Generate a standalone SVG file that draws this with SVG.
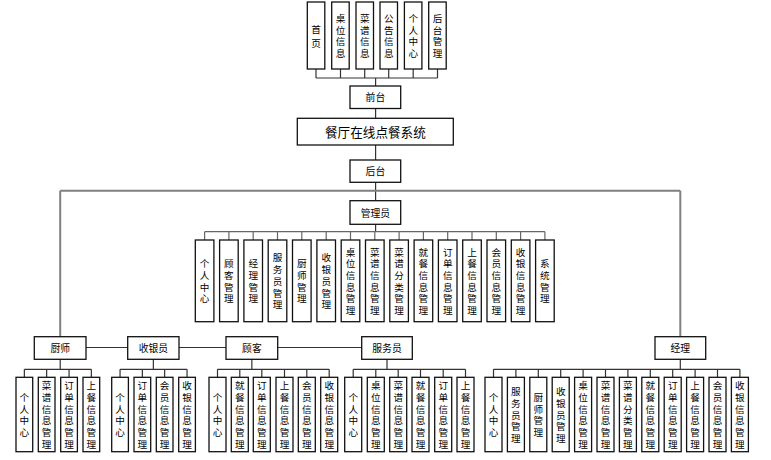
<svg xmlns="http://www.w3.org/2000/svg" width="771" height="460" viewBox="0 0 771 460">
<style>
rect{fill:#fff;stroke:#111;stroke-width:1.3}
.c line,.c path{stroke:#333;stroke-width:1.2;fill:none}
.c .g{stroke:#808080;stroke-width:2}
.c .m{stroke:#666}
text{font-family:"Noto Sans CJK SC","Noto Sans CJK JP",sans-serif;fill:#000;text-anchor:middle;dominant-baseline:central}
.v{font-size:9.6px}
.h{font-size:9.8px}
.t{font-size:12.6px}
</style>
<rect x="0" y="0" width="771" height="460" style="fill:#fff;stroke:none"/>
<g class="c" id="connectors">
<path d="M316 69V78M340.5 69V78M364.7 69V78M388.7 69V78M413.2 69V78M437.5 69V78M316 78H437.5M375.6 78V86"/>
<path d="M375.6 108.5V118.3M375.6 145V160M375.6 182.3V200.7M375.6 224.3V231.7"/>
<path class="g" d="M60.2 190.7H680.3M60.2 190.7V336.7M680.3 190.7V336.7"/>
<path class="m" d="M204.6 231.7H544.9M204.6 231.7V240M228.9 231.7V240M253.2 231.7V240M277.5 231.7V240M301.8 231.7V240M326.2 231.7V240M350.5 231.7V240M374.8 231.7V240M399.1 231.7V240M423.4 231.7V240M447.7 231.7V240M472 231.7V240M496.3 231.7V240M520.6 231.7V240M544.9 231.7V240"/>
<path d="M86 347.5H127.7M179 347.5H226M277.7 347.5H361.7"/>
<path d="M60.2 359.3V369.3M24.35 369.3H91.35M24.35 369.3V377.3M46.65 369.3V377.3M69.05 369.3V377.3M91.35 369.3V377.3"/>
<path d="M153.35 359.3V369.3M120.05 369.3H187.05M120.05 369.3V377.3M142.35 369.3V377.3M164.65 369.3V377.3M187.05 369.3V377.3"/>
<path d="M251.85 359.3V369.3M217.5 369.3H329.2M217.5 369.3V377.3M239.8 369.3V377.3M261.8 369.3V377.3M284.5 369.3V377.3M306.8 369.3V377.3M329.2 369.3V377.3"/>
<path d="M387 359.3V369.3M353.2 369.3H465.5M353.2 369.3V377.3M375.8 369.3V377.3M398.2 369.3V377.3M420.5 369.3V377.3M443.2 369.3V377.3M465.5 369.3V377.3"/>
<path d="M680.3 359.3V369.3M493.5 369.3H739.9M493.5 369.3V377.3M515.9 369.3V377.3M538.3 369.3V377.3M560.7 369.3V377.3M583.1 369.3V377.3M605.5 369.3V377.3M627.9 369.3V377.3M650.3 369.3V377.3M672.7 369.3V377.3M695.1 369.3V377.3M717.5 369.3V377.3M739.9 369.3V377.3"/>
</g>
<!-- top row -->
<g id="n-shouye"><rect x="307.3" y="2" width="17.5" height="67"/><text class="v" x="316 316" y="28.5 42.5">首页</text></g>
<g id="n-zhuowei"><rect x="331.7" y="2" width="17.5" height="67"/><text class="v" x="340.5 340.5 340.5 340.5" y="17.95 29.65 41.35 53.05">桌位信息</text></g>
<g id="n-caipu"><rect x="356" y="2" width="17.5" height="67"/><text class="v" x="364.7 364.7 364.7 364.7" y="17.95 29.65 41.35 53.05">菜谱信息</text></g>
<g id="n-gonggao"><rect x="380" y="2" width="17.5" height="67"/><text class="v" x="388.7 388.7 388.7 388.7" y="17.95 29.65 41.35 53.05">公告信息</text></g>
<g id="n-geren"><rect x="404.4" y="2" width="17.5" height="67"/><text class="v" x="413.2 413.2 413.2 413.2" y="17.95 29.65 41.35 53.05">个人中心</text></g>
<g id="n-houtaiguanli"><rect x="428.7" y="2" width="17.5" height="67"/><text class="v" x="437.5 437.5 437.5 437.5" y="17.95 29.65 41.35 53.05">后台管理</text></g>
<g id="n-qiantai"><rect x="350" y="86" width="50.7" height="22.5"/><text class="h" x="375.4" y="97.3">前台</text></g>
<g id="n-system"><rect x="297.3" y="118.3" width="156" height="26.7"/><text class="t" x="375.4" y="131.7">餐厅在线点餐系统</text></g>
<g id="n-houtai"><rect x="350" y="160" width="50.7" height="22.3"/><text class="h" x="375.4" y="171.2">后台</text></g>
<g id="n-admin"><rect x="350" y="200.7" width="50.7" height="23.6"/><text class="h" x="375.4" y="212.5">管理员</text></g>
<!-- admin children -->
<g id="a0"><rect x="195.3" y="240" width="18.6" height="81.7"/><text class="v" x="204.6 204.6 204.6 204.6" y="263.3 275 286.7 298.4">个人中心</text></g>
<g id="a1"><rect x="219.6" y="240" width="18.6" height="81.7"/><text class="v" x="228.9 228.9 228.9 228.9" y="263.3 275 286.7 298.4">顾客管理</text></g>
<g id="a2"><rect x="243.9" y="240" width="18.6" height="81.7"/><text class="v" x="253.2 253.2 253.2 253.2" y="263.3 275 286.7 298.4">经理管理</text></g>
<g id="a3"><rect x="268.2" y="240" width="18.6" height="81.7"/><text class="v" x="277.5 277.5 277.5 277.5 277.5" y="257.45 269.15 280.85 292.55 304.25">服务员管理</text></g>
<g id="a4"><rect x="292.5" y="240" width="18.6" height="81.7"/><text class="v" x="301.8 301.8 301.8 301.8" y="263.3 275 286.7 298.4">厨师管理</text></g>
<g id="a5"><rect x="316.9" y="240" width="18.6" height="81.7"/><text class="v" x="326.2 326.2 326.2 326.2 326.2" y="257.45 269.15 280.85 292.55 304.25">收银员管理</text></g>
<g id="a6"><rect x="341.2" y="240" width="18.6" height="81.7"/><text class="v" x="350.5 350.5 350.5 350.5 350.5 350.5" y="251.6 263.3 275 286.7 298.4 310.1">桌位信息管理</text></g>
<g id="a7"><rect x="365.5" y="240" width="18.6" height="81.7"/><text class="v" x="374.8 374.8 374.8 374.8 374.8 374.8" y="251.6 263.3 275 286.7 298.4 310.1">菜谱信息管理</text></g>
<g id="a8"><rect x="389.8" y="240" width="18.6" height="81.7"/><text class="v" x="399.1 399.1 399.1 399.1 399.1 399.1" y="251.6 263.3 275 286.7 298.4 310.1">菜谱分类管理</text></g>
<g id="a9"><rect x="414.1" y="240" width="18.6" height="81.7"/><text class="v" x="423.4 423.4 423.4 423.4 423.4 423.4" y="251.6 263.3 275 286.7 298.4 310.1">就餐信息管理</text></g>
<g id="a10"><rect x="438.4" y="240" width="18.6" height="81.7"/><text class="v" x="447.7 447.7 447.7 447.7 447.7 447.7" y="251.6 263.3 275 286.7 298.4 310.1">订单信息管理</text></g>
<g id="a11"><rect x="462.7" y="240" width="18.6" height="81.7"/><text class="v" x="472 472 472 472 472 472" y="251.6 263.3 275 286.7 298.4 310.1">上餐信息管理</text></g>
<g id="a12"><rect x="487" y="240" width="18.6" height="81.7"/><text class="v" x="496.3 496.3 496.3 496.3 496.3 496.3" y="251.6 263.3 275 286.7 298.4 310.1">会员信息管理</text></g>
<g id="a13"><rect x="511.3" y="240" width="18.6" height="81.7"/><text class="v" x="520.6 520.6 520.6 520.6 520.6 520.6" y="251.6 263.3 275 286.7 298.4 310.1">收银信息管理</text></g>
<g id="a14"><rect x="535.6" y="240" width="18.6" height="81.7"/><text class="v" x="544.9 544.9 544.9 544.9" y="263.3 275 286.7 298.4">系统管理</text></g>
<!-- role row -->
<g id="n-chushi"><rect x="34.3" y="336.7" width="51.7" height="22.6"/><text class="h" x="60.2" y="348">厨师</text></g>
<g id="n-shouyin"><rect x="127.7" y="336.7" width="51.3" height="22.6"/><text class="h" x="153.4" y="348">收银员</text></g>
<g id="n-guke"><rect x="226" y="336.7" width="51.7" height="22.6"/><text class="h" x="251.9" y="348">顾客</text></g>
<g id="n-fuwu"><rect x="361.7" y="336.7" width="50.6" height="22.6"/><text class="h" x="387" y="348">服务员</text></g>
<g id="n-jingli"><rect x="655" y="336.7" width="50.7" height="22.6"/><text class="h" x="680.3" y="348">经理</text></g>
<!-- chushi children -->
<g id="c0"><rect x="16" y="377.3" width="16.7" height="74.4"/><text class="v" x="24.35 24.35 24.35 24.35" y="396.95 408.65 420.35 432.05">个人中心</text></g>
<g id="c1"><rect x="38.3" y="377.3" width="16.7" height="74.4"/><text class="v" x="46.65 46.65 46.65 46.65 46.65 46.65" y="385.25 396.95 408.65 420.35 432.05 443.75">菜谱信息管理</text></g>
<g id="c2"><rect x="60.7" y="377.3" width="16.7" height="74.4"/><text class="v" x="69.05 69.05 69.05 69.05 69.05 69.05" y="385.25 396.95 408.65 420.35 432.05 443.75">订单信息管理</text></g>
<g id="c3"><rect x="83" y="377.3" width="16.7" height="74.4"/><text class="v" x="91.35 91.35 91.35 91.35 91.35 91.35" y="385.25 396.95 408.65 420.35 432.05 443.75">上餐信息管理</text></g>
<!-- shouyin children -->
<g id="s0"><rect x="111.7" y="377.3" width="16.7" height="74.4"/><text class="v" x="120.05 120.05 120.05 120.05" y="396.95 408.65 420.35 432.05">个人中心</text></g>
<g id="s1"><rect x="134" y="377.3" width="16.7" height="74.4"/><text class="v" x="142.35 142.35 142.35 142.35 142.35 142.35" y="385.25 396.95 408.65 420.35 432.05 443.75">订单信息管理</text></g>
<g id="s2"><rect x="156.3" y="377.3" width="16.7" height="74.4"/><text class="v" x="164.65 164.65 164.65 164.65 164.65 164.65" y="385.25 396.95 408.65 420.35 432.05 443.75">会员信息管理</text></g>
<g id="s3"><rect x="178.7" y="377.3" width="16.7" height="74.4"/><text class="v" x="187.05 187.05 187.05 187.05 187.05 187.05" y="385.25 396.95 408.65 420.35 432.05 443.75">收银信息管理</text></g>
<!-- guke children -->
<g id="g0"><rect x="209" y="377.3" width="17" height="74.4"/><text class="v" x="217.5 217.5 217.5 217.5" y="396.95 408.65 420.35 432.05">个人中心</text></g>
<g id="g1"><rect x="231.3" y="377.3" width="17" height="74.4"/><text class="v" x="239.8 239.8 239.8 239.8 239.8 239.8" y="385.25 396.95 408.65 420.35 432.05 443.75">就餐信息管理</text></g>
<g id="g2"><rect x="253.3" y="377.3" width="17" height="74.4"/><text class="v" x="261.8 261.8 261.8 261.8 261.8 261.8" y="385.25 396.95 408.65 420.35 432.05 443.75">订单信息管理</text></g>
<g id="g3"><rect x="276" y="377.3" width="17" height="74.4"/><text class="v" x="284.5 284.5 284.5 284.5 284.5 284.5" y="385.25 396.95 408.65 420.35 432.05 443.75">上餐信息管理</text></g>
<g id="g4"><rect x="298.3" y="377.3" width="17" height="74.4"/><text class="v" x="306.8 306.8 306.8 306.8 306.8 306.8" y="385.25 396.95 408.65 420.35 432.05 443.75">会员信息管理</text></g>
<g id="g5"><rect x="320.7" y="377.3" width="17" height="74.4"/><text class="v" x="329.2 329.2 329.2 329.2 329.2 329.2" y="385.25 396.95 408.65 420.35 432.05 443.75">收银信息管理</text></g>
<!-- fuwuyuan children -->
<g id="f0"><rect x="344.7" y="377.3" width="17" height="74.4"/><text class="v" x="353.2 353.2 353.2 353.2" y="396.95 408.65 420.35 432.05">个人中心</text></g>
<g id="f1"><rect x="367.3" y="377.3" width="17" height="74.4"/><text class="v" x="375.8 375.8 375.8 375.8 375.8 375.8" y="385.25 396.95 408.65 420.35 432.05 443.75">桌位信息管理</text></g>
<g id="f2"><rect x="389.7" y="377.3" width="17" height="74.4"/><text class="v" x="398.2 398.2 398.2 398.2 398.2 398.2" y="385.25 396.95 408.65 420.35 432.05 443.75">菜谱信息管理</text></g>
<g id="f3"><rect x="412" y="377.3" width="17" height="74.4"/><text class="v" x="420.5 420.5 420.5 420.5 420.5 420.5" y="385.25 396.95 408.65 420.35 432.05 443.75">就餐信息管理</text></g>
<g id="f4"><rect x="434.7" y="377.3" width="17" height="74.4"/><text class="v" x="443.2 443.2 443.2 443.2 443.2 443.2" y="385.25 396.95 408.65 420.35 432.05 443.75">订单信息管理</text></g>
<g id="f5"><rect x="457" y="377.3" width="17" height="74.4"/><text class="v" x="465.5 465.5 465.5 465.5 465.5 465.5" y="385.25 396.95 408.65 420.35 432.05 443.75">上餐信息管理</text></g>
<!-- jingli children -->
<g id="j0"><rect x="485" y="377.3" width="17" height="74.4"/><text class="v" x="493.5 493.5 493.5 493.5" y="396.95 408.65 420.35 432.05">个人中心</text></g>
<g id="j1"><rect x="507.4" y="377.3" width="17" height="74.4"/><text class="v" x="515.9 515.9 515.9 515.9 515.9" y="391.1 402.8 414.5 426.2 437.9">服务员管理</text></g>
<g id="j2"><rect x="529.8" y="377.3" width="17" height="74.4"/><text class="v" x="538.3 538.3 538.3 538.3" y="396.95 408.65 420.35 432.05">厨师管理</text></g>
<g id="j3"><rect x="552.2" y="377.3" width="17" height="74.4"/><text class="v" x="560.7 560.7 560.7 560.7 560.7" y="391.1 402.8 414.5 426.2 437.9">收银员管理</text></g>
<g id="j4"><rect x="574.6" y="377.3" width="17" height="74.4"/><text class="v" x="583.1 583.1 583.1 583.1 583.1 583.1" y="385.25 396.95 408.65 420.35 432.05 443.75">桌位信息管理</text></g>
<g id="j5"><rect x="597" y="377.3" width="17" height="74.4"/><text class="v" x="605.5 605.5 605.5 605.5 605.5 605.5" y="385.25 396.95 408.65 420.35 432.05 443.75">菜谱信息管理</text></g>
<g id="j6"><rect x="619.4" y="377.3" width="17" height="74.4"/><text class="v" x="627.9 627.9 627.9 627.9 627.9 627.9" y="385.25 396.95 408.65 420.35 432.05 443.75">菜谱分类管理</text></g>
<g id="j7"><rect x="641.8" y="377.3" width="17" height="74.4"/><text class="v" x="650.3 650.3 650.3 650.3 650.3 650.3" y="385.25 396.95 408.65 420.35 432.05 443.75">就餐信息管理</text></g>
<g id="j8"><rect x="664.2" y="377.3" width="17" height="74.4"/><text class="v" x="672.7 672.7 672.7 672.7 672.7 672.7" y="385.25 396.95 408.65 420.35 432.05 443.75">订单信息管理</text></g>
<g id="j9"><rect x="686.6" y="377.3" width="17" height="74.4"/><text class="v" x="695.1 695.1 695.1 695.1 695.1 695.1" y="385.25 396.95 408.65 420.35 432.05 443.75">上餐信息管理</text></g>
<g id="j10"><rect x="709" y="377.3" width="17" height="74.4"/><text class="v" x="717.5 717.5 717.5 717.5 717.5 717.5" y="385.25 396.95 408.65 420.35 432.05 443.75">会员信息管理</text></g>
<g id="j11"><rect x="731.4" y="377.3" width="17" height="74.4"/><text class="v" x="739.9 739.9 739.9 739.9 739.9 739.9" y="385.25 396.95 408.65 420.35 432.05 443.75">收银信息管理</text></g>
</svg>
